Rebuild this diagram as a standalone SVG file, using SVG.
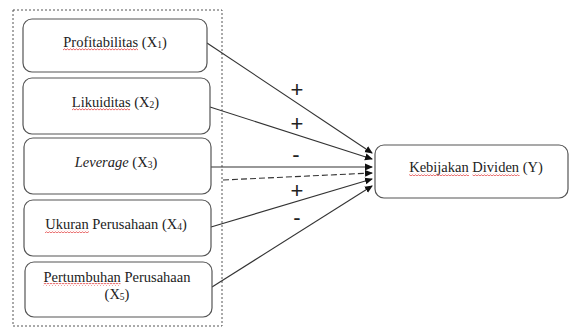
<svg xmlns="http://www.w3.org/2000/svg" width="569" height="327" viewBox="0 0 569 327">
<style>
.box{fill:#fff;stroke:#555;stroke-width:1.2}
.t{font-family:"Liberation Serif","Times New Roman",serif;font-size:14.5px;fill:#222;text-anchor:middle}
.s{font-size:9.5px}
.w{fill:url(#wave)}
.c{stroke:#333;stroke-width:1.1;fill:none;marker-end:url(#ah)}
.sg{font-family:"Liberation Sans",Arial,sans-serif;font-size:22px;fill:#222;text-anchor:middle}
</style>
<defs>
<marker id="ah" markerWidth="8" markerHeight="8" refX="7" refY="4" orient="auto" markerUnits="userSpaceOnUse">
<path d="M0,0.5 L8,4 L0,7.5 Z" fill="#111"/>
</marker>
<pattern id="wave" patternUnits="userSpaceOnUse" width="3" height="3">
<path d="M0,2 L1.5,0.8 L3,2" fill="none" stroke="#d22" stroke-width="0.7"/>
</pattern>
</defs>
<rect x="13" y="10" width="209" height="316" fill="none" stroke="#555" stroke-width="1" stroke-dasharray="2,2"/>
<g id="connectors">
<line class="c" x1="207" y1="43" x2="372" y2="153"/>
<line class="c" x1="210" y1="107" x2="372" y2="159"/>
<line class="c" x1="211" y1="167" x2="372" y2="167"/>
<line class="c" x1="223" y1="180" x2="372" y2="173" stroke-dasharray="6,3"/>
<line class="c" x1="211" y1="227" x2="372" y2="179"/>
<line class="c" x1="212" y1="287" x2="372" y2="186"/>
<text class="sg" x="297" y="97">+</text>
<text class="sg" x="297" y="131">+</text>
<text class="sg" x="296" y="162">-</text>
<text class="sg" x="297" y="198">+</text>
<text class="sg" x="297" y="225">-</text>
</g>
<g id="x1"><rect class="box" x="23" y="19" width="184" height="53" rx="9"/>
<text class="t" x="115" y="47">Profitabilitas (X<tspan class="s" dy="1">1</tspan><tspan dy="-1">)</tspan></text>
<rect class="w" x="63" y="48" width="75" height="3"/></g>
<g id="x2"><rect class="box" x="23" y="78" width="187" height="56" rx="9"/>
<text class="t" x="115.5" y="107">Likuiditas (X<tspan class="s" dy="1">2</tspan><tspan dy="-1">)</tspan></text>
<rect class="w" x="72" y="108" width="58" height="3"/></g>
<g id="x3"><rect class="box" x="24" y="138" width="187" height="56" rx="9"/>
<text class="t" x="116" y="167"><tspan font-style="italic">Leverage</tspan> (X<tspan class="s" dy="1">3</tspan><tspan dy="-1">)</tspan></text></g>
<g id="x4"><rect class="box" x="24" y="200" width="187" height="56" rx="9"/>
<text class="t" x="116" y="229">Ukuran Perusahaan (X<tspan class="s" dy="1">4</tspan><tspan dy="-1">)</tspan></text>
<rect class="w" x="45" y="230" width="44" height="3"/></g>
<g id="x5"><rect class="box" x="25" y="262" width="187" height="55" rx="9"/>
<text class="t" x="117" y="282">Pertumbuhan Perusahaan</text>
<text class="t" x="117" y="299">(X<tspan class="s" dy="1">5</tspan><tspan dy="-1">)</tspan></text>
<rect class="w" x="43.5" y="283" width="77" height="3"/></g>
<g id="y"><rect class="box" x="375" y="145" width="193" height="53" rx="9"/>
<text class="t" x="476" y="172">Kebijakan Dividen (Y)</text>
<rect class="w" x="409" y="173" width="60" height="3"/>
<rect class="w" x="472.5" y="173" width="47" height="3"/></g>
</svg>
